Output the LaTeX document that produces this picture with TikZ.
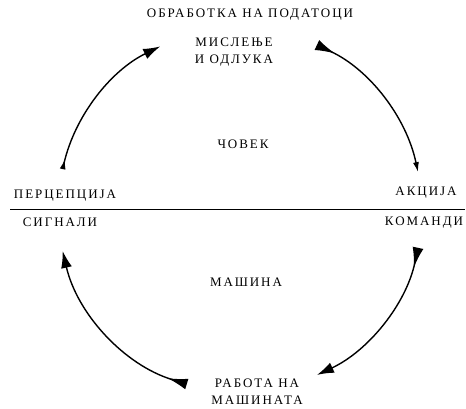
\documentclass[tikz,border=0pt]{standalone}
\usepackage{fontspec}
\setmainfont{Liberation Serif}[LetterSpace=15]
\usetikzlibrary{arrows.meta}

\tikzset{
  lbl/.style={inner sep=0pt, align=center, font=\fontsize{13}{17}\selectfont},
  big tail/.tip={Latex[reversed,length=20pt,width=11pt]},
  small tail/.tip={Latex[reversed,length=10pt,width=6pt]},
  big head/.tip={Latex[length=17pt,width=11pt]},
  small head/.tip={Latex[length=10pt,width=6pt]},
  cycle arc/.style 2 args={line width=1.4pt, arrows={#1}-{#2}},
}

\begin{document}
\begin{tikzpicture}[x=1pt, y=1pt]
		\useasboundingbox (0, 0) rectangle (466, 409);

		% labels, man above the line
		\node [lbl] (proc) at (250, 394) {ОБРАБОТКА НА ПОДАТОЦИ};
		\node [lbl] (think) at (234, 357) {МИСЛЕЊЕ\\И ОДЛУКА};
		\node [lbl] (man) at (243, 265) {ЧОВЕК};
		\node [lbl] (perc) at (65, 213) {ПЕРЦЕПЦИЈА};
		\node [lbl] (act) at (426, 216) {АКЦИЈА};

		% machine below the line
		\node [lbl] (sig) at (60, 187) {СИГНАЛИ};
		\node [lbl] (cmd) at (424, 186) {КОМАНДИ};
		\node [lbl] (mach) at (246, 127) {МАШИНА};
		\node [lbl] (work) at (257, 17) {РАБОТА НА\\МАШИНАТА};

		% dividing line
		\coordinate (divl) at (10, 199);
		\coordinate (divr) at (465, 199);
		\draw [line width=1pt] (divl) -- (divr);

		% the cycle, on a circle round the middle
		\coordinate (mid) at (240, 199);
		\draw [cycle arc={small tail}{big head}] (mid) ++(167:182) arc [start angle=167, end angle=116, radius=182pt];
		\draw [cycle arc={big tail}{small head}] (mid) ++(65:182) arc [start angle=65, end angle=12, radius=182pt];
		\draw [cycle arc={big tail}{big head}] (mid) ++(-12:182) arc [start angle=-12, end angle=-65, radius=182pt];
		\draw [cycle arc={big tail}{big head}] (mid) ++(-107:182) arc [start angle=-107, end angle=-167, radius=182pt];
	\end{tikzpicture}
\end{document}
